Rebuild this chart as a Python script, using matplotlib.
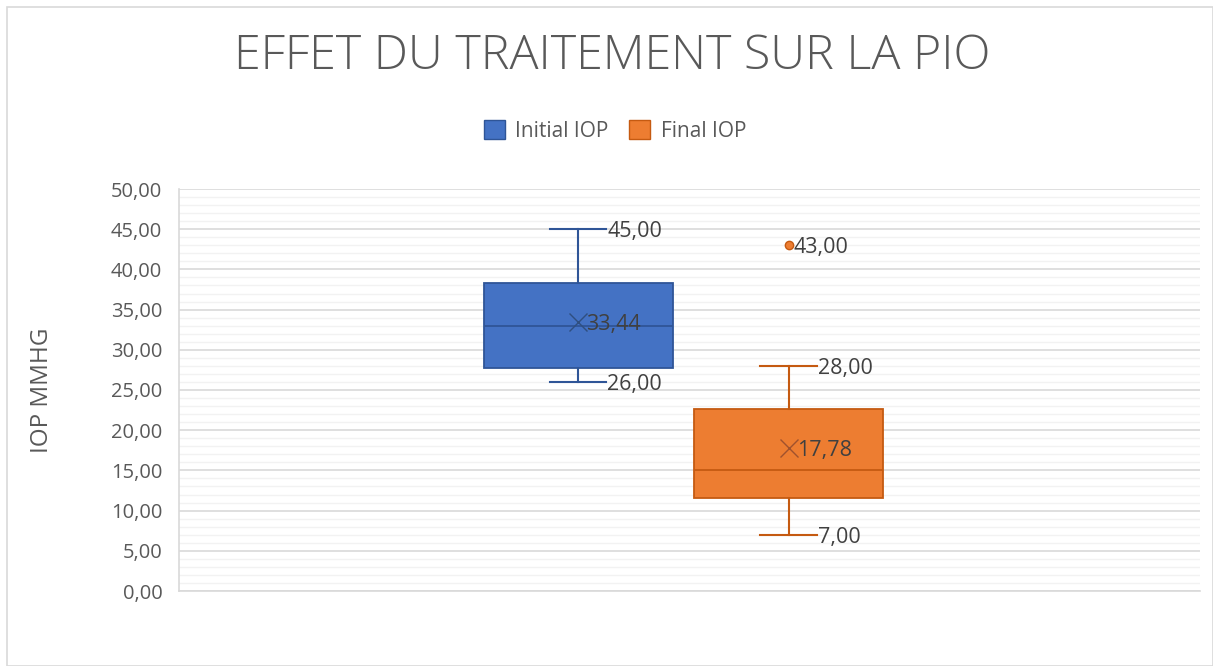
import matplotlib
matplotlib.use("Agg")
import matplotlib.pyplot as plt
from matplotlib.ticker import MultipleLocator, FuncFormatter
from matplotlib.patches import Rectangle, Patch

series = ["Initial IOP", "Final IOP"]
whislo = [26.0, 7.0]
q1 = [27.7, 11.6]
med = [33.0, 15.0]
q3 = [38.3, 22.6]
whishi = [45.0, 28.0]
means = [33.44, 17.78]
fliers = [[], [43.0]]
colors = ["#4472C4", "#ED7D31"]
edges = ["#2F5597", "#C55A11"]
meancols = ["#2F4F80", "#A0522D"]

plt.rcParams['font.family'] = ['Open Sans', 'DejaVu Sans']

fig = plt.figure(figsize=(12.13, 6.66), dpi=100)
fig.patches.append(Rectangle((7/1213, 0), 1 - 7/1213, 1 - 7/666, transform=fig.transFigure,
                             fill=False, edgecolor="#D9D9D9", linewidth=1.2))
ax = fig.add_axes([179/1213, 1 - 591/666, (1200 - 179)/1213, (591 - 189)/666])

positions = [0.391, 0.597]
width = 0.185
stats = []
for i in range(len(series)):
    stats.append(dict(med=med[i], q1=q1[i], q3=q3[i], whislo=whislo[i], whishi=whishi[i],
                      mean=means[i], fliers=fliers[i], label=series[i]))

fmt = lambda v: f"{v:.2f}".replace('.', ',')
for i, s in enumerate(stats):
    ax.bxp([s], positions=[positions[i]], widths=width, patch_artist=True, showmeans=True,
           boxprops=dict(facecolor=colors[i], edgecolor=edges[i], linewidth=1.3),
           medianprops=dict(color=edges[i], linewidth=1.3),
           whiskerprops=dict(color=edges[i], linewidth=1.5),
           capprops=dict(color=edges[i], linewidth=1.5),
           capwidths=0.055,
           meanprops=dict(marker='x', markeredgecolor=meancols[i], markersize=13, markeredgewidth=1.0),
           flierprops=dict(marker='o', markerfacecolor=colors[i], markeredgecolor=edges[i], markersize=6),
           zorder=3)
    capend = positions[i] + 0.0275
    kw = dict(va='center_baseline', ha='left', fontsize=15.5, color='#404040', zorder=5)
    ax.text(capend + 0.001, whishi[i], fmt(whishi[i]), **kw)
    ax.text(capend + 0.001, whislo[i], fmt(whislo[i]), **kw)
    ax.text(positions[i] + 0.008, means[i], fmt(means[i]), **kw)
    for f in fliers[i]:
        ax.text(positions[i] + 0.005, f, fmt(f), **kw)

ax.set_xlim(0, 1)
ax.set_ylim(0, 50)
ax.yaxis.set_major_locator(MultipleLocator(5))
ax.yaxis.set_minor_locator(MultipleLocator(1))
ax.yaxis.set_major_formatter(FuncFormatter(lambda v, p: f"{v:.2f}".replace('.', ',')))
ax.grid(axis='y', which='major', color='#D9D9D9', linewidth=1.2, zorder=0)
ax.grid(axis='y', which='minor', color='#F2F2F2', linewidth=1.0, zorder=0)
ax.set_axisbelow(True)
ax.set_xticks([])
ax.tick_params(axis='y', which='both', length=0, labelsize=14.5, labelcolor='#595959', pad=12)
for sp in ['top', 'right']:
    ax.spines[sp].set_visible(False)
ax.spines['left'].set_color('#D9D9D9')
ax.spines['bottom'].set_color('#D9D9D9')
ax.spines['left'].set_linewidth(1.2)
ax.spines['bottom'].set_linewidth(1.2)

ax.set_ylabel("IOP MMHG", fontsize=17.5, color='#595959', labelpad=41)

fig.text(612/1213, 1 - 57/666, "EFFET DU TRAITEMENT SUR LA PIO", ha='center', va='center',
         fontsize=34.8, color='#595959', fontweight='light')

handles = [Patch(facecolor=colors[i], edgecolor=edges[i], label=series[i]) for i in range(2)]
fig.legend(handles=handles, loc='center', bbox_to_anchor=(615/1213, 1 - 131/666), ncol=2,
           frameon=False, fontsize=15, labelcolor='#595959', handlelength=1.0, handleheight=1.0,
           handletextpad=0.5, columnspacing=1.0)

fig.savefig("out.png", dpi=100)
